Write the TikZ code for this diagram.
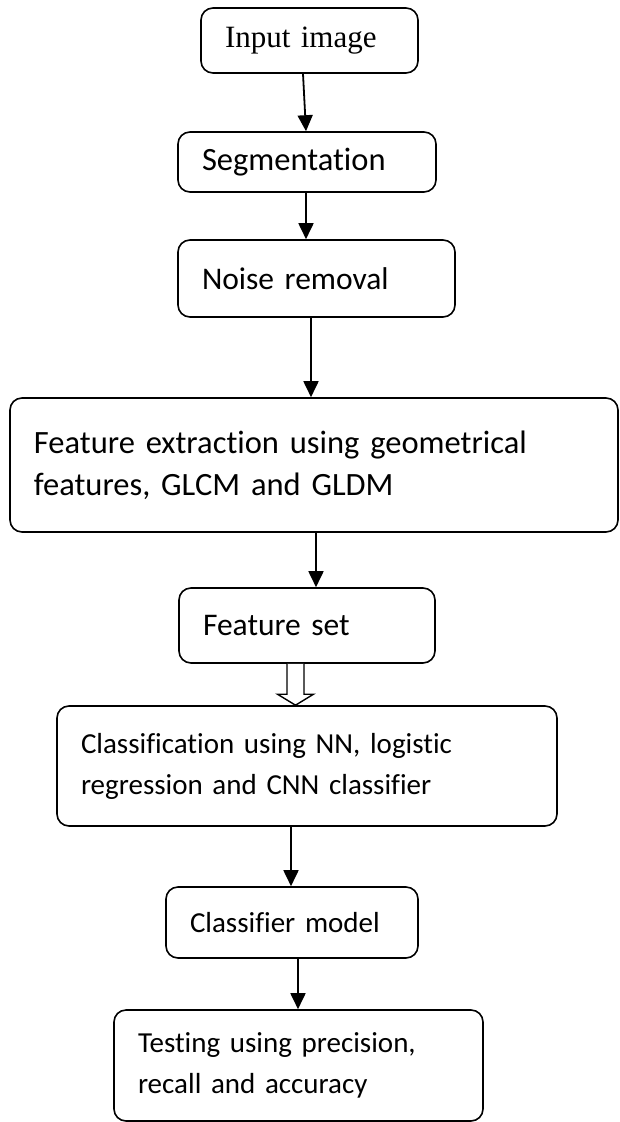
\documentclass[tikz,border=0pt]{standalone}
\usepackage{fontspec}
\setmainfont{Carlito}[Ligatures={NoCommon}]
\newfontfamily\serifface{Liberation Serif}
\usetikzlibrary{arrows.meta,calc,positioning}

\begin{document}
\begin{tikzpicture}[x=1pt,y=-1pt,>={Triangle[length=16pt,width=15pt]},
    stage/.style={draw,line width=1.6pt,rounded corners=12pt,inner xsep=24pt,
      inner ysep=0pt,align=left,font=\fontsize{32.5}{42}\selectfont},
    small/.style={font=\fontsize{29}{41}\selectfont},
    flow/.style={->,line width=1.8pt}]
      \useasboundingbox (0,0) rectangle (619,1122);
      % stages, top to bottom
      \node[stage,text width=169pt,minimum height=65pt,
        font=\serifface\fontsize{31}{41}\selectfont] (input) at (309.5,40.5) {Input image};
      \node[stage,text width=210pt,minimum height=60pt] (seg) at (307,162) {Segmentation};
      \node[stage,text width=229pt,minimum height=77pt,
        font=\fontsize{31.5}{42}\selectfont] (noise) at (316.5,278.5) {Noise removal};
      \node[stage,text width=560pt,minimum height=134pt] (feat) at (314,465)
        {Feature extraction using geometrical\\features, GLCM and GLDM};
      \node[stage,text width=208pt,minimum height=75pt,
        font=\fontsize{31.5}{42}\selectfont] (fset) at (307,625.5) {Feature set};
      \node[stage,small,text width=452pt,minimum height=120pt] (cls) at (307,766)
        {Classification using NN, logistic\\regression and CNN classifier};
      \node[stage,small,text width=204pt,minimum height=71pt] (model) at (292,922.5) {Classifier~model};
      \node[stage,small,text width=321pt,minimum height=111pt] (test) at (298.5,1065.5)
        {Testing using precision,\\recall and accuracy};
      % connectors
      \draw[flow] ([xshift=-6.5pt]input.south) -- ([xshift=-1pt]seg.north);
      \draw[flow] ([xshift=-1pt]seg.south) -- ([xshift=-10.5pt]noise.north);
      \draw[flow] ([xshift=-5.5pt]noise.south) -- ([xshift=-3pt]feat.north);
      \draw[flow] ([xshift=2pt]feat.south) -- ([xshift=9pt]fset.north);
      \draw[line width=1.4pt,fill=white]
        ($(fset.south)+(-20,0)$) -- ($(cls.north)+(-20,-11)$)
        -- ($(cls.north)+(-29.5,-11)$) -- ($(cls.north)+(-11.5,0)$)
        -- ($(cls.north)+(6.5,-11)$) -- ($(cls.north)+(-3,-11)$)
        -- ($(fset.south)+(-3,0)$);
      \draw[flow] ([xshift=-16pt]cls.south) -- ([xshift=-1pt]model.north);
      \draw[flow] ([xshift=6pt]model.south) -- ([xshift=-0.5pt]test.north);
    \end{tikzpicture}
\end{document}
